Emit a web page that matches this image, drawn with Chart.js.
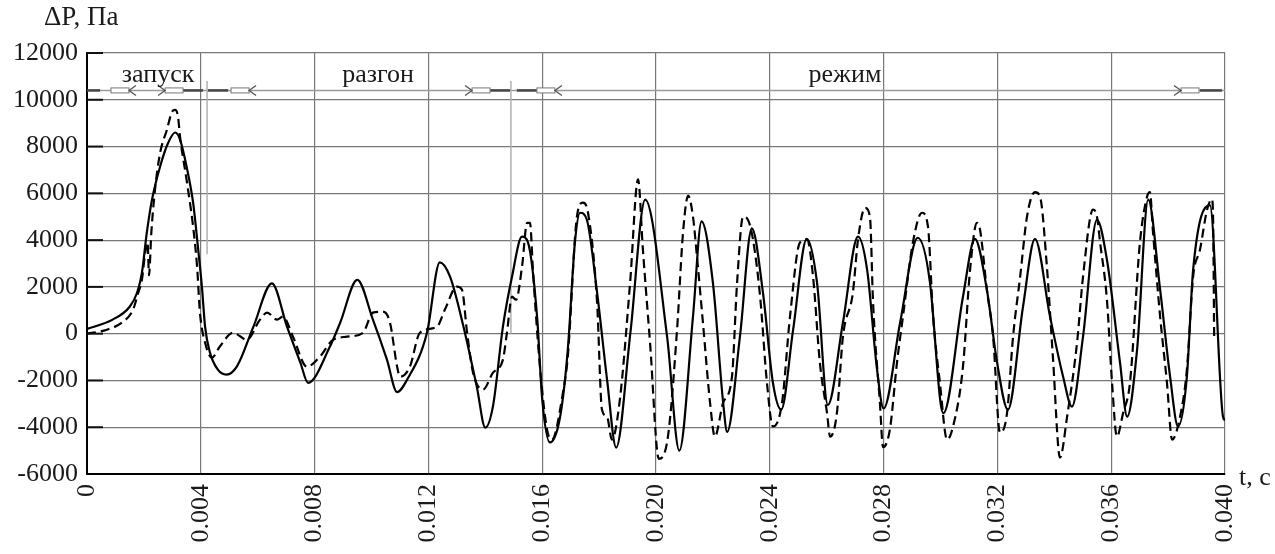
<!DOCTYPE html>
<html>
<head>
<meta charset="utf-8">
<script src="https://cdn.jsdelivr.net/npm/chart.js@4.4.1/dist/chart.umd.min.js"></script>
<style>
html, body { margin: 0; padding: 0; background: #fff; }
</style>
</head>
<body>
<canvas id="grafica" width="1275" height="554"></canvas>
<script>
// время, с
const tSolid = [0, 0.0009, 0.0015, 0.00176, 0.00193, 0.0021, 0.00228, 0.00257, 0.00285, 0.0031,
    0.00327, 0.0035, 0.00373, 0.0039, 0.00404, 0.00415, 0.00432, 0.0046, 0.0049, 0.00527,
    0.00585, 0.0065, 0.00703, 0.0075, 0.00777, 0.00854, 0.0089, 0.0095, 0.01005, 0.01054,
    0.0109, 0.01125, 0.01195, 0.0124, 0.01276, 0.0132, 0.0137, 0.0140, 0.01427, 0.01462,
    0.01494, 0.01529, 0.0155, 0.01582, 0.016, 0.01627, 0.01663, 0.0169, 0.01715, 0.01733,
    0.01757, 0.01793, 0.01828, 0.0186, 0.0191, 0.01962, 0.02039, 0.02082, 0.0213, 0.0216,
    0.022, 0.02236, 0.0225, 0.02295, 0.02337, 0.02376, 0.02411, 0.0244, 0.02482, 0.0253,
    0.02566, 0.02604, 0.02657, 0.0271, 0.02742, 0.02777, 0.028, 0.02858, 0.0292, 0.02963,
    0.03, 0.0301, 0.03079, 0.03121, 0.03163, 0.03199, 0.03237, 0.0329, 0.03332, 0.03385,
    0.03431, 0.03462, 0.03501, 0.0355, 0.03585, 0.03631, 0.03656, 0.03691, 0.0373, 0.03772,
    0.03807, 0.03835, 0.03866, 0.03888, 0.03947, 0.03993, 0.040];
const pSolid = [200, 600, 1150, 1750, 2600, 4300, 5700, 7150, 8150, 8600,
    8300, 7150, 5600, 3700, 2000, 300, -800, -1540, -1750, -1400,
    300, 2150, 300, -1240, -2100, -550, 470, 2300, 600, -1100,
    -2500, -1970, 40, 3050, 2440, 470, -2260, -4020, -3100, 300,
    2440, 4150, 3900, 730, -2800, -4650, -3550, -680, 3900, 5170,
    4870, 1750, -1970, -4870, 40, 5730, -130, -5000, 730, 4800,
    2180, -2950, -4200, -130, 4500, 1750, -2100, -3250, 170, 4050,
    2180, -3050, 470, 4150, 2740, -1540, -3200, 470, 4100, 2180,
    -2950, -3400, 1580, 4050, 1880, -1240, -3250, 1150, 4050, 730,
    -1840, -3120, -130, 4870, 3160, -1240, -3550, -680, 5730, 1880,
    -1840, -3970, -1840, 2740, 5500, -3550, -3700];

const tDashed = [0, 0.0007, 0.00127, 0.00162, 0.0018, 0.00193, 0.00204, 0.00213, 0.00218, 0.00226,
    0.00239, 0.00257, 0.00281, 0.00299, 0.0031, 0.0032, 0.00327, 0.0035, 0.00373, 0.00387,
    0.00397, 0.00415, 0.00439, 0.00467, 0.00513, 0.00562, 0.00608, 0.00633, 0.00668, 0.00689,
    0.00724, 0.00773, 0.00819, 0.00865, 0.00914, 0.0097, 0.01005, 0.0104, 0.01065, 0.0109,
    0.011, 0.01135, 0.0117, 0.0123, 0.01258, 0.013, 0.01318, 0.01336, 0.01357, 0.01392,
    0.01427, 0.01462, 0.01476, 0.01494, 0.01508, 0.01529, 0.01547, 0.01557, 0.01568, 0.01592,
    0.01617, 0.01634, 0.01673, 0.0169, 0.01722, 0.01743, 0.01761, 0.01793, 0.0181, 0.01828,
    0.01845, 0.01873, 0.01909, 0.01937, 0.01954, 0.01979, 0.0201, 0.02042, 0.02074, 0.02095,
    0.02113, 0.0213, 0.02144, 0.02165, 0.0219, 0.02207, 0.02236, 0.02267, 0.02285, 0.02306,
    0.02323, 0.02341, 0.02366, 0.0239, 0.02411, 0.02443, 0.02471, 0.02506, 0.02531, 0.02552,
    0.02576, 0.02601, 0.02612, 0.02636, 0.02657, 0.02692, 0.0271, 0.02735, 0.02752, 0.02763,
    0.02787, 0.02798, 0.02822, 0.02847, 0.02868, 0.02903, 0.02935, 0.02956, 0.02974, 0.02998,
    0.03023, 0.03044, 0.03079, 0.03104, 0.03128, 0.03139, 0.03163, 0.03185, 0.03209, 0.03234,
    0.03255, 0.0328, 0.03304, 0.03332, 0.0335, 0.03374, 0.03395, 0.0342, 0.03445, 0.0348,
    0.03501, 0.03536, 0.0355, 0.03561, 0.03585, 0.03603, 0.0362, 0.03642, 0.03666, 0.03701,
    0.03726, 0.03736, 0.03747, 0.03772, 0.03796, 0.03814, 0.03842, 0.03866, 0.03888, 0.03912,
    0.03937, 0.03954, 0.03958, 0.03962];
const pDashed = [0, 170, 510, 1030, 1750, 2300, 3400, 3900, 2500, 4300,
    6150, 7730, 8720, 9490, 9570, 9270, 8420, 6580, 4570, 2860,
    900, -380, -1030, -550, 40, -260, 600, 900, 600, 730,
    -130, -1410, -980, -260, -130, 40, 900, 940, 470, -1410,
    -1840, -1410, 40, 300, 1030, 2010, 1880, 40, -1670, -2390,
    -1670, -1110, 40, 1580, 1450, 2860, 4740, 4740, 2600, -1410,
    -4100, -4530, -2520, -980, 5000, 5600, 5170, 1320, -3250, -3550,
    -4530, -2820, 2180, 6600, 3590, -380, -5350, -4400, 170, 4320,
    5900, 5000, 3290, 470, -2950, -4400, -2950, -1840, 2180, 5000,
    4870, 4020, 1580, -2100, -3970, -2950, 730, 3900, 4020, 2440,
    -1240, -3380, -4400, -3380, -130, 1750, 4020, 5380, 5000, 1320,
    -2950, -4850, -4100, -1240, 730, 3900, 5170, 4570, 730, -2100,
    -4530, -3970, -1410, 2740, 4740, 4440, 1880, -130, -4230, -3380,
    -130, 2440, 5000, 6050, 5850, 2860, -980, -5300, -3550, -380,
    2440, 5300, 5000, 3900, 1450, -2100, -4400, -3380, -2100, 3900,
    5850, 6050, 4320, 730, -2100, -4530, -3550, -1540, 2440, 3590,
    5300, 5750, 5000, -200];

const xTickLabels = ["0", "0.004", "0.008", "0.012", "0.016", "0.020", "0.024", "0.028", "0.032", "0.036", "0.040"];
const yTickLabels = ["-6000", "-4000", "-2000", "0", "2000", "4000", "6000", "8000", "10000", "12000"];

// этапы: запуск, разгон, режим
const phaseNames = ["запуск", "разгон", "режим"];
const phaseNameT = [0.0025, 0.01023, 0.02664];
const phaseNameP = 11050;
const phaseLineP = 10400;
const sepT = [0.00422, 0.0149];
const sepTopP = 10800;
const sepBottomP = [3400, 0];
const markT = [0.00116, 0.00306, 0.00538, 0.01385, 0.01613, 0.03877];
const markSide = [1, -1, 1, -1, 1, -1];
const darkSeg = [[0, 0.00046], [0.00337, 0.00408], [0.00425, 0.00496], [0.01417, 0.01487], [0.01511, 0.01582], [0.03912, 0.03989]];

const fuente = "'Liberation Serif', 'Times New Roman', serif";

function linea(ctx, x1, y1, x2, y2) {
    ctx.beginPath();
    ctx.moveTo(x1, y1);
    ctx.lineTo(x2, y2);
    ctx.stroke();
}

const decor = {
    id: "decor",
    beforeDatasetsDraw(chart) {
        const { ctx, chartArea: a, scales: { x, y } } = chart;
        ctx.save();
        const yl = y.getPixelForValue(phaseLineP);
        ctx.strokeStyle = "#9a9a9a";
        ctx.lineWidth = 1.5;
        linea(ctx, a.left, yl, a.right, yl);

        ctx.strokeStyle = "#b0b0b0";
        ctx.lineWidth = 1.5;
        sepT.forEach((t, i) => {
            const xp = x.getPixelForValue(t);
            linea(ctx, xp, y.getPixelForValue(sepTopP), xp, y.getPixelForValue(sepBottomP[i]));
        });

        ctx.strokeStyle = "#444";
        ctx.lineWidth = 2.5;
        darkSeg.forEach(s => {
            linea(ctx, x.getPixelForValue(s[0]), yl, x.getPixelForValue(s[1]), yl);
        });

        markT.forEach((t, i) => {
            const cx = x.getPixelForValue(t);
            const w = 9;
            ctx.fillStyle = "#fff";
            ctx.strokeStyle = "#777";
            ctx.lineWidth = 1;
            ctx.fillRect(cx - w, yl - 2.5, 2 * w, 5);
            ctx.strokeRect(cx - w, yl - 2.5, 2 * w, 5);
            const ex = cx + markSide[i] * w;
            const tx = ex + markSide[i] * 7;
            ctx.strokeStyle = "#555";
            ctx.lineWidth = 1.3;
            ctx.beginPath();
            ctx.moveTo(tx, yl - 5);
            ctx.lineTo(ex, yl);
            ctx.lineTo(tx, yl + 5);
            ctx.stroke();
        });
        ctx.restore();
    },
    afterDraw(chart) {
        const { ctx, chartArea: a, scales: { x, y } } = chart;
        ctx.save();
        ctx.strokeStyle = "#111";
        ctx.lineWidth = 2;
        y.ticks.forEach(tk => {
            if (tk.value <= -6000) return;
            const yp = y.getPixelForValue(tk.value);
            linea(ctx, a.left, yp, a.left + 16, yp);
        });

        ctx.fillStyle = "#1a1a1a";
        ctx.font = "26px " + fuente;
        ctx.textBaseline = "middle";
        ctx.textAlign = "center";
        phaseNames.forEach((n, i) => {
            ctx.fillText(n, x.getPixelForValue(phaseNameT[i]), y.getPixelForValue(phaseNameP));
        });
        ctx.textAlign = "left";
        ctx.font = "27px " + fuente;
        ctx.fillText("ΔP, Па", a.left - 43, a.top - 35);
        ctx.font = "26px " + fuente;
        ctx.fillText("t, c", a.right + 14, a.bottom + 4);
        ctx.restore();
    }
};

const ctx = document.getElementById("grafica").getContext("2d");

new Chart(ctx, {
    type: "line",
    data: {
        datasets: [
            {
                label: "ΔP 1",
                data: tSolid.map((t, i) => ({ x: t, y: pSolid[i] })),
                borderColor: "#000",
                borderWidth: 2.2,
                pointRadius: 0,
                cubicInterpolationMode: "monotone",
                fill: false
            },
            {
                label: "ΔP 2",
                data: tDashed.map((t, i) => ({ x: t, y: pDashed[i] })),
                borderColor: "#000",
                borderWidth: 2.2,
                borderDash: [9, 5],
                pointRadius: 0,
                cubicInterpolationMode: "monotone",
                fill: false
            }
        ]
    },
    options: {
        responsive: false,
        animation: false,
        layout: { padding: { top: 53, right: 50, left: 0, bottom: 0 } },
        plugins: {
            legend: { display: false },
            tooltip: { enabled: false }
        },
        scales: {
            x: {
                type: "linear",
                min: 0,
                max: 0.04,
                afterFit: s => { s.height = 80; },
                ticks: {
                    stepSize: 0.004,
                    autoSkip: false,
                    minRotation: 90,
                    maxRotation: 90,
                    padding: 10,
                    color: "#1a1a1a",
                    font: { family: fuente, size: 26 },
                    callback: (v, i) => xTickLabels[i]
                },
                grid: { color: "#777", lineWidth: 1.2, drawTicks: false },
                border: { color: "#000", width: 2 }
            },
            y: {
                min: -6000,
                max: 12000,
                afterFit: s => { s.width = 87; },
                ticks: {
                    stepSize: 2000,
                    padding: 9,
                    color: "#1a1a1a",
                    font: { family: fuente, size: 26 },
                    callback: (v, i) => yTickLabels[i]
                },
                grid: { color: "#777", lineWidth: 1.2, drawTicks: false },
                border: { color: "#000", width: 2 }
            }
        }
    },
    plugins: [decor]
});
</script>
</body>
</html>
